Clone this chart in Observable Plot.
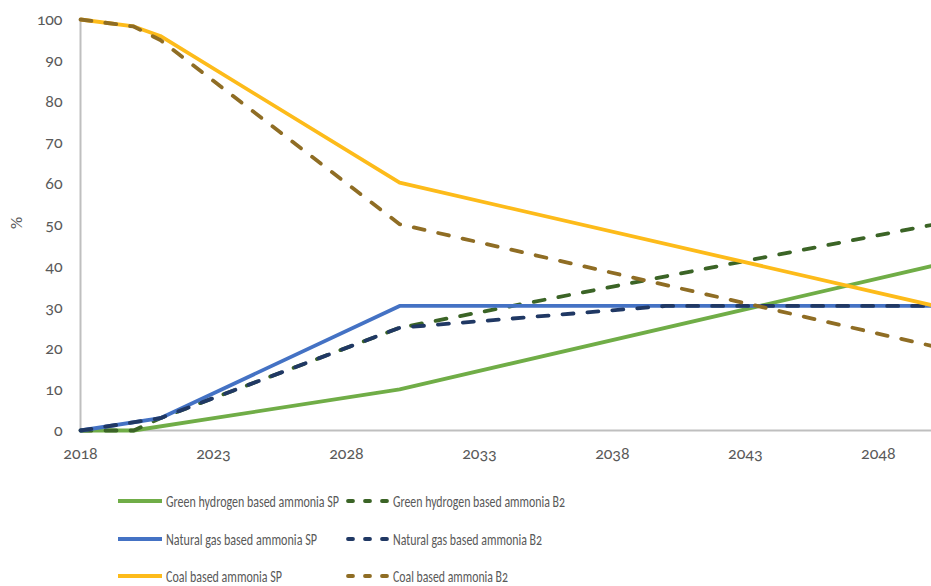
<!DOCTYPE html>
<html>
<head>
<meta charset="utf-8">
<script src="https://cdn.jsdelivr.net/npm/d3@7"></script>
<script src="https://cdn.jsdelivr.net/npm/@observablehq/plot@0.6"></script>
<style>
  body { margin: 0; background: #fff; font-family: Carlito, Lato, sans-serif; }
  #chart { position: relative; width: 931px; }
  #legend { display: block; }
  svg text { font-variant-numeric: oldstyle-nums; }
</style>
</head>
<body>
<div id="chart"></div>
<svg id="legend" width="931" height="116"></svg>
<script>
// Series names
const seriesNames = [
  "Green hydrogen based ammonia SP",
  "Green hydrogen based ammonia B2",
  "Natural gas based ammonia SP",
  "Natural gas based ammonia B2",
  "Coal based ammonia SP",
  "Coal based ammonia B2"
];
// Break-point years and values (per series)
const greenSPYears = [2018, 2020, 2030, 2050];
const greenSPValues = [0, 0, 10, 40];
const greenB2Years = [2018, 2020, 2021, 2030, 2050];
const greenB2Values = [0, 0, 3, 25, 50];
const gasSPYears = [2018, 2021, 2030, 2050];
const gasSPValues = [0, 3, 30.3, 30.3];
const gasB2Years = [2018, 2021, 2030, 2040, 2050];
const gasB2Values = [0, 3, 25, 30.3, 30.3];
const coalSPYears = [2018, 2020, 2021, 2030, 2050];
const coalSPValues = [100, 98.3, 96, 60.3, 30.5];
const coalB2Years = [2018, 2020, 2021, 2030, 2050];
const coalB2Values = [100, 98.3, 95, 50.2, 20.6];

const xTicks = [2018, 2023, 2028, 2033, 2038, 2043, 2048];
const yTicks = [0, 10, 20, 30, 40, 50, 60, 70, 80, 90, 100];

const colors = ["#70AD47", "#3B6426", "#4472C4", "#203864", "#FDBB1A", "#8F6D24"];
const dashed = [false, true, false, true, false, true];

const yearSets = [greenSPYears, greenB2Years, gasSPYears, gasB2Years, coalSPYears, coalB2Years];
const valueSets = [greenSPValues, greenB2Values, gasSPValues, gasB2Values, coalSPValues, coalB2Values];

const lineMarks = seriesNames.map((name, i) => {
  const data = yearSets[i].map((yr, j) => ({year: yr, value: valueSets[i][j], series: name}));
  return Plot.line(data, {
    x: "year", y: "value",
    stroke: colors[i],
    strokeWidth: 3.8,
    strokeDasharray: dashed[i] ? "11,14" : null,
    strokeLinecap: dashed[i] ? "round" : "butt",
    strokeLinejoin: "round"
  });
});

const chart = Plot.plot({
  width: 931,
  height: 470,
  marginLeft: 80,
  marginRight: 0,
  marginTop: 19,
  marginBottom: 40,
  style: {fontFamily: "Carlito, Lato, sans-serif", fontSize: "17px", color: "#595959", background: "#fff"},
  x: {domain: [2018, 2050], label: null},
  y: {domain: [0, 100], label: null},
  marks: [
    Plot.ruleX([2018], {stroke: "#BFBFBF", strokeWidth: 2}),
    Plot.ruleY([0], {stroke: "#BFBFBF", strokeWidth: 2}),
    Plot.axisX({ticks: xTicks, tickFormat: d => String(d), tickSize: 0, tickPadding: 16, fontSize: 17, fill: "#595959"}),
    Plot.axisY({ticks: yTicks, tickSize: 0, tickPadding: 18, fontSize: 17, fill: "#595959", label: null}),
    ...lineMarks,
    Plot.text(["%"], {frameAnchor: "left", dx: -64, dy: 4, rotate: -90, fontSize: 17, fill: "#595959"})
  ]
});
document.getElementById("chart").appendChild(chart);

// Legend (SVG, fitted to the reference text extents)
const legendTextWidths = [173, 172, 151, 149, 116, 115];
const svg = d3.select("#legend");
const colX = [118, 345];
const rowY = [31, 69, 106];
seriesNames.forEach((name, i) => {
  const col = i % 2, row = Math.floor(i / 2);
  const g = svg.append("g").attr("transform", `translate(${colX[col]},${rowY[row]})`);
  const ln = g.append("line")
    .attr("x1", dashed[i] ? 3 : 0).attr("x2", 44)
    .attr("y1", 0).attr("y2", 0)
    .attr("stroke", colors[i]).attr("stroke-width", 3.8);
  if (dashed[i]) ln.attr("stroke-dasharray", "5,12").attr("stroke-linecap", "round");
  g.append("text")
    .attr("x", 48)
    .attr("y", 0).attr("dy", "0.35em")
    .attr("font-family", "Carlito, Lato, sans-serif")
    .attr("font-size", 17)
    .attr("fill", "#595959")
    .attr("textLength", legendTextWidths[i])
    .attr("lengthAdjust", "spacingAndGlyphs")
    .text(name);
});
</script>
</body>
</html>
